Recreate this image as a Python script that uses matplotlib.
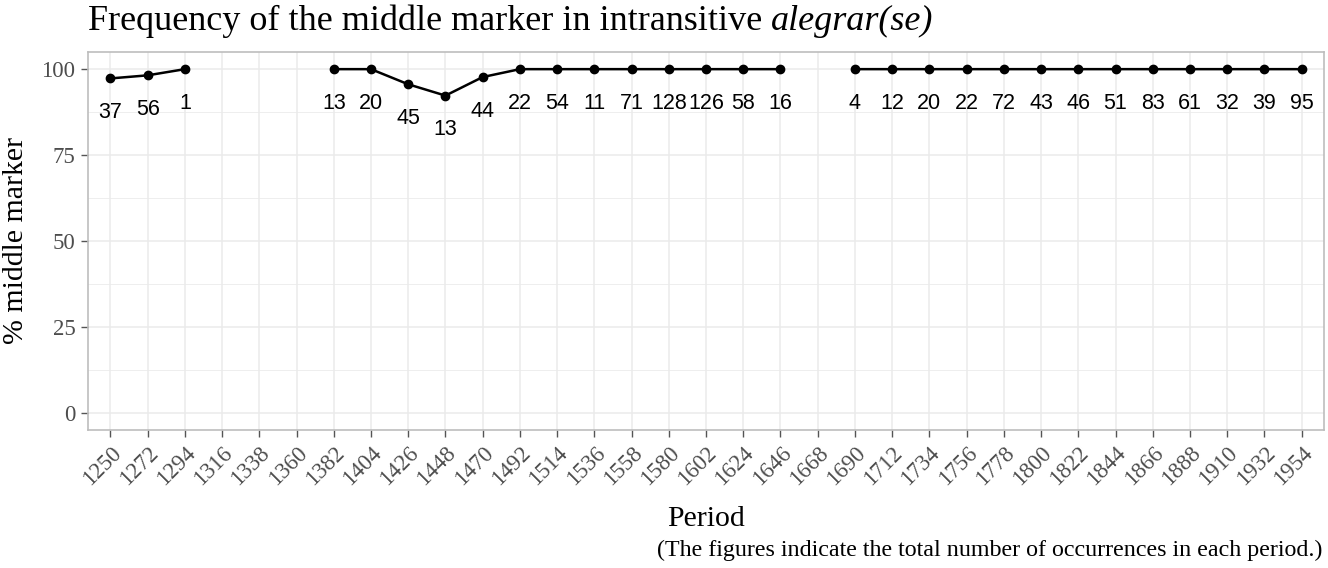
import numpy as np
import matplotlib
matplotlib.use('Agg')
import matplotlib.pyplot as plt
from matplotlib.ticker import MultipleLocator

periods = list(range(1250, 1955, 22))
pct = [97.3, 98.2, 100.0, np.nan, np.nan, np.nan, 100.0, 100.0, 95.6, 92.3,
       97.7, 100.0, 100.0, 100.0, 100.0, 100.0, 100.0, 100.0, 100.0, np.nan,
       100.0, 100.0, 100.0, 100.0, 100.0, 100.0, 100.0, 100.0, 100.0, 100.0,
       100.0, 100.0, 100.0]
counts = [37, 56, 1, None, None, None, 13, 20, 45, 13,
          44, 22, 54, 11, 71, 128, 126, 58, 16, None,
          4, 12, 20, 22, 72, 43, 46, 51, 83, 61,
          32, 39, 95]

serif = ['Liberation Serif', 'DejaVu Serif']
sans = ['Liberation Sans', 'DejaVu Sans']
grid_col = '#ebebeb'

fig = plt.figure(figsize=(13.28, 5.68), dpi=100)
ax = fig.add_axes([0.0663, 0.243, 0.9307, 0.6655])

x = np.arange(len(periods))
y = np.array(pct, dtype=float)
ax.plot(x, y, color='black', lw=1.8, zorder=3)
ax.scatter(x, y, s=36, color='black', zorder=4)
for xi, yi, c in zip(x, y, counts):
    if c is None:
        continue
    ax.text(xi, yi - 10, str(c), ha='center', va='center', fontsize=15.5,
            family=sans, color='black')

ax.set_xlim(-0.6, len(periods) - 1 + 0.6)
ax.set_ylim(-5, 105)
ax.set_xticks(x)
ax.set_xticklabels([str(p) for p in periods], rotation=45, ha='right',
                   rotation_mode='anchor', fontsize=16.5, family=serif, color='#4d4d4d')
ax.set_yticks([0, 25, 50, 75, 100])
ax.set_yticklabels(['0', '25', '50', '75', '100'], fontsize=16.5, family=serif, color='#4d4d4d')
ax.yaxis.set_minor_locator(MultipleLocator(12.5))
ax.grid(True, which='major', color=grid_col, lw=1.1, zorder=0)
ax.grid(True, which='minor', axis='y', color=grid_col, lw=0.6, zorder=0)
ax.set_axisbelow(True)
for s in ax.spines.values():
    s.set_color('#bdbdbd')
    s.set_linewidth(1.2)
ax.tick_params(axis='both', which='major', length=5, color='#555555', width=1, pad=4)
ax.tick_params(axis='both', which='minor', length=0)

ax.set_xlabel('Period', fontsize=21.5, family=serif, labelpad=12)
ax.set_ylabel('% middle marker', fontsize=21.5, family=serif, labelpad=9)

t1 = fig.text(0.0663, 0.962, 'Frequency of the middle marker in intransitive ',
              fontsize=26, family=serif, va='center', ha='left')
fig.canvas.draw()
bb = t1.get_window_extent()
fig.text(bb.x1 / fig.bbox.width, 0.962, 'alegrar(se)', fontsize=26, family=serif,
         style='italic', va='center', ha='left')

fig.text(0.9955, 0.031, '(The figures indicate the total number of occurrences in each period.)',
         fontsize=17.3, family=serif, ha='right', va='center')

fig.savefig('out.png', dpi=100)
